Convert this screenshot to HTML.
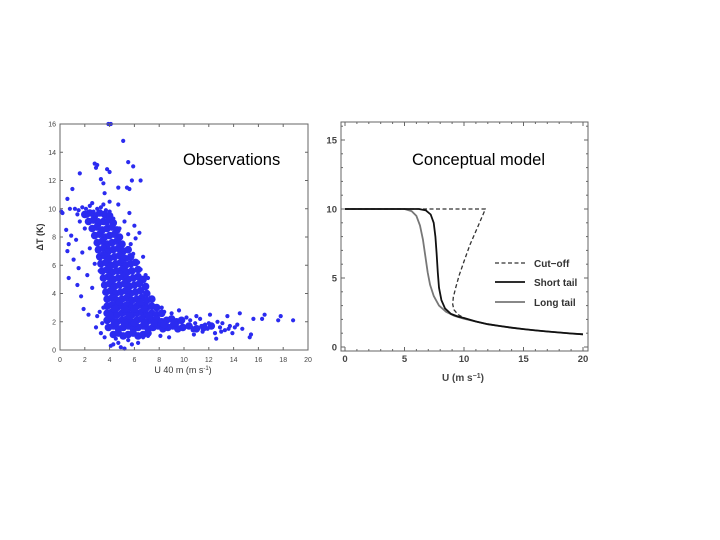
<!DOCTYPE html>
<html><head><meta charset="utf-8"><style>
html,body{margin:0;padding:0;background:#fff;}
svg{display:block;font-family:"Liberation Sans",sans-serif;}
</style></head><body>
<svg id="c" width="720" height="540" viewBox="0 0 720 540">
<rect width="720" height="540" fill="#fff"/>
</svg>
<script>
// ---- Observations data (U 40 m, deltaT) ----
const obsPoints = [
[3.9,16],[4.1,16],[5.1,14.8],[5.5,13.3],[5.9,13],[2.8,13.2],[2.9,12.9],[3,13.1],[3.8,12.8],[4,12.6],[1.6,12.5],[6.5,12],[5.8,12],[5.4,11.5],[5.6,11.4],[4.7,11.5],[1,11.4],[0.6,10.7],[0.1,9.8],[0.2,9.7],[16.5,2.5],[16.3,2.2],[17.8,2.4],[17.6,2.1],[18.8,2.1],[15.6,2.2],[15.4,1.1],[15.3,0.9],[14.5,2.6],[14.1,1.6],
[0.8,10],[1.2,10],[1.5,9.9],[1.8,10.1],[2.1,10],[2.4,10.2],[2.7,9.8],[3,10],[3.3,10.1],[1.4,9.6],[2.2,9.5],[2.6,10.4],[3.5,10.3],[3.7,9.9],[4,9.8],
[0.5,8.5],[0.7,7.5],[0.6,7],[0.9,8.1],[1.1,6.4],[1.3,7.8],[1.5,5.8],[1.4,4.6],[1.7,3.8],[1.8,6.9],[2,8.6],[2.2,5.3],[2.4,7.2],[2.6,4.4],[0.7,5.1],[1.9,2.9],[2.3,2.5],[2.8,6.1],[2.9,8.8],[1.6,9.1],
[3.1,9.2],[3.3,8.4],[3.5,7.6],[3.4,6.8],[3.6,9.5],[3.8,8.9],[3.9,7.3],[4.1,8.1],[4.2,6.5],[4.3,9.3],[4.5,7.8],[4.6,6.1],[4.8,8.6],[4.9,5.5],[5.1,7.1],[5.2,9.1],[5.4,6.4],[5.5,8.2],[5.7,7.5],[5.9,6.8],[6.1,7.9],[6.3,6.2],[6.5,5.7],[6.7,6.6],[6.9,5.3],[7.1,5.1],[3.2,5.6],[3.7,5.2],[4.4,5.9],[5.0,6.3],[5.3,5.2],[5.8,5.6],[6.2,5.1],[3.0,7.0],[2.8,8.0],[4.0,10.5],[4.7,10.3],[5.6,9.7],[6.0,8.8],[6.4,8.3],[3.5,11.8],[3.3,12.1],[3.6,11.1],
[4.1,0.3],[4.3,0.4],[4.9,0.2],[5.2,0.1],[5.8,0.4],[6.3,0.5],[4.5,0.8],[5.5,0.7],[6.7,0.9],[7.1,1.0],[3.4,1.9],[3.2,2.7],[3.5,3.0],[3.0,2.4],[2.9,1.6],[3.3,1.2],[3.6,0.9],[4.7,0.5],
[8.2,3.0],[8.4,2.7],[9.0,2.6],[9.6,2.8],[10.2,2.3],[11.0,2.4],[12.6,0.8],[14.7,1.5],[8.1,1.0],[8.8,0.9],[10.8,1.1],
[10.5,2.1],[10.7,1.4],[10.9,1.9],[11.1,1.6],[11.3,2.2],[11.5,1.3],[11.7,1.8],[11.9,1.5],[12.1,2.5],[12.3,1.7],[12.5,1.2],[12.7,2.0],[12.9,1.6],[13.1,1.9],[13.3,1.4],[13.5,2.4],[13.7,1.7],[13.9,1.2],[14.3,1.8],[13.0,1.3],[12.0,1.9],[11.4,1.7],[10.6,1.6],[13.6,1.5]
];
// dense core of the observation cloud
const obsDense = [
[2.0,9.6],[2.4,9.7],[2.8,9.5],[3.2,9.7],[3.6,9.6],[4.0,9.5],
[2.3,9.1],[2.7,9.2],[3.1,9.0],[3.5,9.1],[3.9,9.2],[4.3,9.0],
[2.6,8.6],[3.0,8.7],[3.4,8.5],[3.8,8.6],[4.2,8.7],[4.6,8.5],
[2.8,8.1],[3.2,8.2],[3.6,8.0],[4.0,8.1],[4.4,8.2],[4.8,8.0],
[3.0,7.6],[3.4,7.7],[3.8,7.5],[4.2,7.6],[4.6,7.7],[5.0,7.5],
[3.1,7.1],[3.5,7.2],[3.9,7.0],[4.3,7.1],[4.7,7.2],[5.1,7.0],[5.5,7.1],
[3.2,6.6],[3.6,6.7],[4.0,6.5],[4.4,6.6],[4.8,6.7],[5.2,6.5],[5.7,6.6],
[3.3,6.1],[3.7,6.2],[4.1,6.0],[4.5,6.1],[4.9,6.2],[5.3,6.0],[5.7,6.1],[6.1,6.2],
[3.4,5.6],[3.8,5.7],[4.2,5.5],[4.6,5.6],[5.0,5.7],[5.4,5.5],[5.8,5.6],[6.3,5.7],
[3.5,5.1],[3.9,5.2],[4.3,5.0],[4.7,5.1],[5.1,5.2],[5.5,5.0],[5.9,5.1],[6.3,5.2],[6.7,5.0],
[3.6,4.6],[4.0,4.7],[4.4,4.5],[4.8,4.6],[5.2,4.7],[5.6,4.5],[6.0,4.6],[6.4,4.7],[6.9,4.5],
[3.7,4.1],[4.1,4.2],[4.5,4.0],[4.9,4.1],[5.3,4.2],[5.7,4.0],[6.1,4.1],[6.5,4.2],[7.0,4.0],
[3.8,3.6],[4.2,3.7],[4.6,3.5],[5.0,3.6],[5.4,3.7],[5.8,3.5],[6.2,3.6],[6.6,3.7],[7.0,3.5],[7.4,3.6],
[3.8,3.1],[4.2,3.2],[4.6,3.0],[5.0,3.1],[5.4,3.2],[5.8,3.0],[6.2,3.1],[6.6,3.2],[7.0,3.0],[7.4,3.1],[7.8,3.0],
[3.8,2.6],[4.2,2.7],[4.6,2.5],[5.0,2.6],[5.4,2.7],[5.8,2.5],[6.2,2.6],[6.6,2.7],[7.0,2.5],[7.4,2.6],[7.8,2.5],[8.2,2.6],
[3.8,2.1],[4.2,2.2],[4.6,2.0],[5.0,2.1],[5.4,2.2],[5.8,2.0],[6.2,2.1],[6.6,2.2],[7.0,2.0],[7.4,2.1],[7.8,2.2],[8.2,2.0],[8.6,2.1],[9.0,2.2],[9.4,2.0],[9.8,2.1],
[3.9,1.6],[4.3,1.7],[4.7,1.5],[5.1,1.6],[5.5,1.7],[5.9,1.5],[6.3,1.6],[6.7,1.7],[7.1,1.5],[7.5,1.6],[7.9,1.7],[8.3,1.5],[8.7,1.6],[9.1,1.7],[9.5,1.5],[9.9,1.6],[10.4,1.7],[11.0,1.5],[11.6,1.6],[12.2,1.7],
[4.3,1.1],[4.7,1.2],[5.1,1.0],[5.5,1.1],[5.9,1.2],[6.3,1.0],[6.7,1.1],[7.1,1.2],
[4.0,2.4],[4.4,2.9],[4.8,3.4],[5.2,2.9],[5.6,2.4],[6.0,2.9],[6.4,3.4],[6.8,2.9],[7.2,2.4],[4.4,1.9],[5.2,1.9],[6.0,1.9],[6.8,1.9],[7.6,1.9],[8.4,1.8],[9.2,1.9]
];
const obsXTicks = [0,2,4,6,8,10,12,14,16,18,20];
const obsYTicks = [0,2,4,6,8,10,12,14,16];

// ---- Conceptual model data ----
const cutoffCurve = [[0,10],[6,10],[11.8,10],[11.2,8.8],[10.5,7.4],[10,6.2],[9.6,5.2],[9.3,4.3],[9.1,3.6],[9.05,3.1],[9.15,2.7],[9.5,2.35],[10,2.1],[11,1.85],[12,1.65],[13,1.52],[14,1.4],[15,1.3],[16,1.2],[17,1.12],[18,1.05],[19,0.98],[20,0.92]];
const shortTailCurve = [[0,10],[6.2,10],[6.8,9.9],[7.2,9.6],[7.45,9.0],[7.6,8.0],[7.7,6.8],[7.8,5.4],[7.9,4.3],[8.1,3.4],[8.4,2.8],[8.9,2.4],[9.5,2.2],[10,2.1],[11,1.85],[12,1.65],[13,1.52],[14,1.4],[15,1.3],[16,1.2],[17,1.12],[18,1.05],[19,0.98],[20,0.92]];
const longTailCurve = [[0,10],[5.0,10],[5.6,9.85],[6.0,9.5],[6.3,8.8],[6.55,7.8],[6.75,6.6],[6.95,5.4],[7.15,4.5],[7.45,3.7],[7.9,3.0],[8.5,2.55],[9.2,2.25],[10,2.05],[11,1.85],[12,1.65],[13,1.52],[14,1.4],[15,1.3],[16,1.2],[17,1.12],[18,1.05],[19,0.98],[20,0.92]];
const modelXTicks = [0,5,10,15,20];
const modelYTicks = [0,5,10,15];

const NS = "http://www.w3.org/2000/svg";
const svg = document.getElementById('c');
function mk(tag, attrs, parent){
  const e = document.createElementNS(NS, tag);
  for (const k in attrs) e.setAttribute(k, attrs[k]);
  (parent||svg).appendChild(e); return e;
}
const L = {x0:60,x1:308,y0:350,y1:124,xmin:0,xmax:20,ymin:0,ymax:16};
const lx = v => L.x0 + (v-L.xmin)/(L.xmax-L.xmin)*(L.x1-L.x0);
const ly = v => L.y0 - (v-L.ymin)/(L.ymax-L.ymin)*(L.y0-L.y1);

const gL = mk('g',{});


const pts = mk('g',{},gL);


obsDense.forEach(p=>{
  const c = mk('circle',{cx:lx(p[0]).toFixed(1),cy:ly(p[1]).toFixed(1),r:3.8,fill:'#2b2bf0'},pts);
  
  
});
obsPoints.forEach(p=>{
  const c = mk('circle',{cx:lx(p[0]).toFixed(1),cy:ly(p[1]).toFixed(1),r:2.1,fill:'#2b2bf0'},pts);
  
  
});
const fL = mk('rect',{x:L.x0,y:L.y1,width:L.x1-L.x0,height:L.y0-L.y1,fill:'none',stroke:'#666','stroke-width':1},gL);


obsXTicks.forEach(t=>{
  mk('line',{x1:lx(t),x2:lx(t),y1:L.y0,y2:L.y0-3,stroke:'#666'},gL);
  mk('line',{x1:lx(t),x2:lx(t),y1:L.y1,y2:L.y1+3,stroke:'#666'},gL);
  const tx = mk('text',{x:lx(t),y:L.y0+12,'font-size':7,fill:'#444','text-anchor':'middle'},gL);
  tx.textContent = t;
  
  
});
obsYTicks.forEach(t=>{
  mk('line',{x1:L.x0,x2:L.x0+3,y1:ly(t),y2:ly(t),stroke:'#666'},gL);
  mk('line',{x1:L.x1,x2:L.x1-3,y1:ly(t),y2:ly(t),stroke:'#666'},gL);
  const tx = mk('text',{x:L.x0-4,y:ly(t)+2.5,'font-size':7,fill:'#444','text-anchor':'end'},gL);
  tx.textContent = t;
  
  
});

const R = {x0:345,x1:583,y0:347,y1:140,xmin:0,xmax:20,ymin:0,ymax:15};
const rx = v => R.x0 + (v-R.xmin)/(R.xmax-R.xmin)*(R.x1-R.x0);
const ry = v => R.y0 - (v-R.ymin)/(R.ymax-R.ymin)*(R.y0-R.y1);
const gR = mk('g',{});


const fR = mk('rect',{x:341,y:122,width:247,height:229,fill:'none',stroke:'#666','stroke-width':1},gR);


for(let t=0;t<=20;t++){
  const big = t%5===0;
  mk('line',{x1:rx(t),x2:rx(t),y1:351,y2:351-(big?4:2),stroke:'#666'},gR);
  mk('line',{x1:rx(t),x2:rx(t),y1:122,y2:122+(big?4:2),stroke:'#666'},gR);
}
for(let t=0;t<=16;t++){
  const big = t%5===0;
  mk('line',{x1:341,x2:341+(big?4:2),y1:ry(t),y2:ry(t),stroke:'#666'},gR);
  mk('line',{x1:588,x2:588-(big?4:2),y1:ry(t),y2:ry(t),stroke:'#666'},gR);
}
modelXTicks.forEach(t=>{
  const tx = mk('text',{x:rx(t),y:362,'font-size':9.5,'font-weight':'bold',fill:'#444','text-anchor':'middle'},gR);
  tx.textContent = t;
  
  
});
modelYTicks.forEach(t=>{
  const tx = mk('text',{x:337,y:ry(t)+3.5,'font-size':9.5,'font-weight':'bold',fill:'#444','text-anchor':'end'},gR);
  tx.textContent = t;
  
  
});
function curve(data, attrs, name){
  const d = data.map((p,i)=>(i?'L':'M')+rx(p[0]).toFixed(1)+','+ry(p[1]).toFixed(1)).join(' ');
  const e = mk('path',Object.assign({d:d,fill:'none','stroke-linejoin':'round'},attrs),gR);
  
  
}
curve(longTailCurve,{stroke:'#777','stroke-width':1.8},'long-tail-line');
curve(cutoffCurve,{stroke:'#333','stroke-width':1.3,'stroke-dasharray':'4,2.5'},'cutoff-line');
curve(shortTailCurve,{stroke:'#111','stroke-width':1.8},'short-tail-line');
</script>
<svg style="position:absolute;left:0;top:0" width="720" height="540">
  <text x="183" y="165" font-size="16.5" font-family="Liberation Sans, sans-serif">Observations</text>
  <text x="412" y="165" font-size="16.5" font-family="Liberation Sans, sans-serif">Conceptual model</text>
  <text transform="translate(43,237) rotate(-90)" font-size="9" font-weight="bold" fill="#333" text-anchor="middle" font-family="Liberation Sans, sans-serif">ΔT (K)</text>
  <text x="183" y="373" font-size="9" fill="#333" text-anchor="middle" font-family="Liberation Sans, sans-serif">U 40 m (m s<tspan dy="-3" font-size="6">-1</tspan><tspan dy="3">)</tspan></text>
  <text x="463" y="381" font-size="10" font-weight="bold" fill="#444" text-anchor="middle" font-family="Liberation Sans, sans-serif">U (m s<tspan dy="-3" font-size="7">−1</tspan><tspan dy="3">)</tspan></text>
  <g font-family="Liberation Sans, sans-serif" font-size="10" font-weight="bold" fill="#333">
    <line x1="495" x2="525" y1="263" y2="263" stroke="#333" stroke-width="1.3" stroke-dasharray="4,2.5"/>
    <text x="534" y="267">Cut−off</text>
    <line x1="495" x2="525" y1="282" y2="282" stroke="#111" stroke-width="1.8"/>
    <text x="534" y="286">Short tail</text>
    <line x1="495" x2="525" y1="302" y2="302" stroke="#777" stroke-width="1.8"/>
    <text x="534" y="306">Long tail</text>
  </g>
</svg>
</body></html>
